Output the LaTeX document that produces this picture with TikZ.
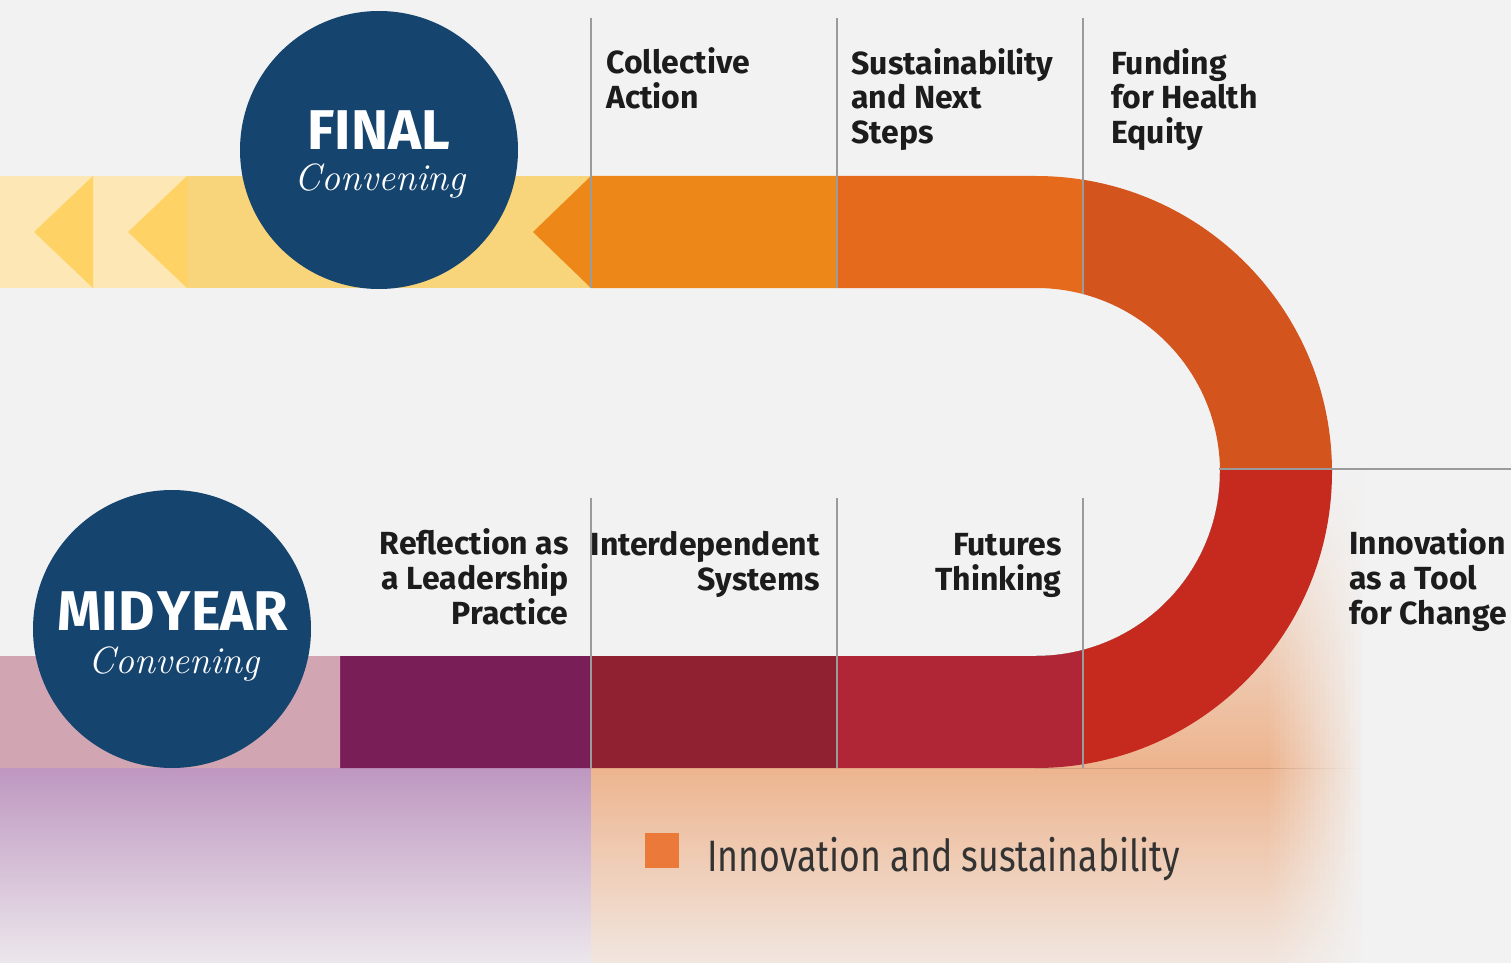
\documentclass[tikz,border=0pt]{standalone}
\usepackage{fontspec}
\newfontfamily\labelfont{Fira Sans}
\newfontfamily\legendfont{Fira Sans}[FakeStretch=0.81]

\definecolor{bgC}{HTML}{F2F2F2}
\definecolor{navy}{HTML}{15446E}
\definecolor{paleyellow}{HTML}{FDE8B5}
\definecolor{tipyellow}{HTML}{FED265}
\definecolor{sunyellow}{HTML}{F8D57A}
\definecolor{orangeA}{HTML}{EC8718}
\definecolor{orangeB}{HTML}{E66A1C}
\definecolor{orangeC}{HTML}{D4541D}
\definecolor{redD}{HTML}{C6291D}
\definecolor{redE}{HTML}{B02636}
\definecolor{redF}{HTML}{8F2131}
\definecolor{plumG}{HTML}{7A1E57}
\definecolor{pinkH}{HTML}{D2A5B3}
\definecolor{lilacTop}{HTML}{BE97C0}
\definecolor{lilacBot}{HTML}{ECE7EC}
\definecolor{glowTop}{HTML}{EDB48E}
\definecolor{glowBot}{HTML}{F1E6DF}
\definecolor{keyorange}{HTML}{EB7A3A}
\definecolor{sepC}{HTML}{9B9B9B}
\definecolor{inkC}{HTML}{1C1C1C}
\definecolor{legendink}{HTML}{333333}

\newcommand{\uturn}{(591,176) -- (1036,176) arc[start angle=-90,end angle=90,radius=296]
  -- (0,768) -- (0,656) -- (1036,656) arc[start angle=90,end angle=-90,radius=184]
  -- (591,288) -- cycle}

\begin{document}
\begin{tikzpicture}[x=0.5pt,y=-0.5pt,
  convening/.style={circle, fill=navy, minimum size=139pt, inner sep=0pt},
  bigword/.style={text=white, font=\labelfont\bfseries\fontsize{28}{30}\selectfont, inner sep=0pt, anchor=base},
  subword/.style={text=white, font=\itshape\fontsize{19}{21}\selectfont, inner sep=0pt, anchor=base},
  topic/.style={text=inkC, font=\labelfont\bfseries\fontsize{16}{17.5}\selectfont, inner sep=0pt},
  divider/.style={draw=sepC, line width=1.3pt}]

	\useasboundingbox (0,0) rectangle (1511,963);
	\fill[bgC] (0,0) rectangle (1511,963);

	\fill[top color=lilacTop, bottom color=lilacBot] (0,768) rectangle (591,963);
	\fill[top color=glowTop, bottom color=glowBot] (591,765) rectangle (1362,963);
	\fill[top color=bgC, bottom color=glowTop] (1220,470) -- (1362,470) -- (1362,768) -- (1036,768)
		-- (1036,656) arc[start angle=90,end angle=0,radius=184] -- cycle;
	\foreach \i [evaluate=\i as \op using (\i+1)/20] in {0,...,19}
		\fill[bgC, opacity=\op] (1270+5*\i,465) rectangle (1275+5*\i,963);

	\fill[paleyellow] (0,176) rectangle (187,288);
	\fill[sunyellow] (187,176) rectangle (591,288);
	\fill[tipyellow] (34,232) -- (93,176) -- (93,288) -- cycle;
	\fill[tipyellow] (128,232) -- (187,176) -- (187,288) -- cycle;
	\fill[orangeA] (533,232) -- (591,176) -- (591,288) -- cycle;

	\foreach \xa/\xb/\ya/\yb/\col in {591/837/0/472/orangeA, 837/1083/0/472/orangeB,
	    1083/1400/0/469/orangeC, 1083/1400/469/963/redD, 837/1083/472/963/redE,
	    591/837/472/963/redF, 340/591/472/963/plumG, 0/340/472/963/pinkH}{
		\begin{scope}
			\clip (\xa,\ya) rectangle (\xb,\yb);
			\fill[fill=\col] \uturn;
		\end{scope}
	}

	\draw[divider] (591,18) -- (591,288);
	\draw[divider] (837,18) -- (837,288);
	\draw[divider] (1083,18) -- (1083,294);
	\draw[divider] (591,498) -- (591,768);
	\draw[divider] (837,498) -- (837,768);
	\draw[divider] (1083,498) -- (1083,768);
	\draw[divider] (1219,469) -- (1511,469);

	\node[convening] (final) at (379,150) {};
	\node[bigword] (finaltitle) at (379,149) {FINAL};
	\node[subword] (finalsub) at (380,191) {Convening};
	\node[convening] (midyear) at (172,629) {};
	\node[bigword] (midtitle) at (173,630) {MID\kern1.5pt YEAR};
	\node[subword] (midsub) at (174,673) {Convening};

	\node[topic, anchor=base west, align=left] (collective) at (606,109) {Collective\\Action};
	\node[topic, anchor=base west, align=left] (sustain) at (851,144) {Sustainability\\and Next\\Steps};
	\node[topic, anchor=base west, align=left] (funding) at (1111,144) {Funding\\for Health\\Equity};
	\node[topic, anchor=base east, align=right] (reflection) at (569,624) {Reflection as\\a Leadership\\Practice};
	\node[topic, anchor=base east, align=right] (systems) at (820,590) {Interdependent\\Systems};
	\node[topic, anchor=base east, align=right] (futures) at (1062,590) {Futures\\Thinking};
	\node[topic, anchor=base west, align=left] (innovation) at (1349,624) {Innovation\\as a Tool\\for Change};

	\fill[keyorange] (645,833) rectangle (679,868);
	\node[text=legendink, font=\legendfont\fontsize{22}{24}\selectfont, inner sep=0pt, anchor=base west] (legend) at (707,871) {Innovation and sustainability};
\end{tikzpicture}
\end{document}
